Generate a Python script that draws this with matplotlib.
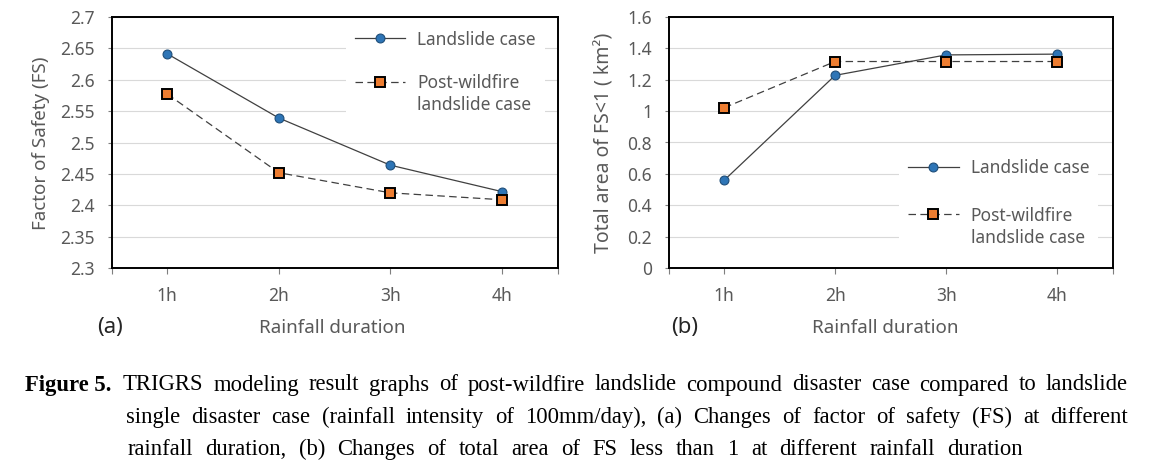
import numpy as np
import matplotlib
matplotlib.use('Agg')
import matplotlib.pyplot as plt
from matplotlib.ticker import FuncFormatter

# ---------------- data ----------------
durations = ['1h', '2h', '3h', '4h']
fs_landslide = [2.641, 2.539, 2.464, 2.422]
fs_postfire = [2.577, 2.452, 2.420, 2.409]
area_landslide = [0.560, 1.227, 1.357, 1.362]
area_postfire = [1.021, 1.315, 1.315, 1.315]
label_land = 'Landslide case'
label_post = 'Post-wildfire\nlandslide case'
ylabel_a = 'Factor of Safety (FS)'
ylabel_b = 'Total area of FS<1 ( km²)'
xlabel = 'Rainfall duration'
panel_a = '(a)'
panel_b = '(b)'
caption_head = 'Figure 5.'
caption_lines = [
    'TRIGRS modeling result graphs of post-wildfire landslide compound disaster case compared to landslide',
    'single disaster case (rainfall intensity of 100mm/day), (a) Changes of factor of safety (FS) at different',
    'rainfall duration, (b) Changes of total area of FS less than 1 at different rainfall duration',
]

W, H = 1169, 471
plt.rcParams['font.family'] = ['Noto Sans', 'DejaVu Sans']
fig = plt.figure(figsize=(W / 100, H / 100), dpi=100)

GRAY = '#595959'
FS = 12.5

def fx(x):
    return x / W

def fy(y):
    return 1 - y / H

axA = fig.add_axes([fx(111.5), fy(268.3), 446 / W, 251.6 / H])
axB = fig.add_axes([fx(668.7), fy(268.3), 443.8 / W, 251.6 / H])

fmt = FuncFormatter(lambda v, _: ('%.2f' % v).rstrip('0').rstrip('.'))

def style(ax, ylim, ystep):
    ax.set_xlim(0.5, 4.5)
    ax.set_ylim(*ylim)
    ax.set_yticks(np.arange(ylim[0], ylim[1] + ystep / 2, ystep))
    ax.yaxis.set_major_formatter(fmt)
    ax.grid(axis='y', color='#d9d9d9', lw=0.8)
    ax.set_axisbelow(True)
    for s in ax.spines.values():
        s.set_color('black')
        s.set_linewidth(1.4)
    ax.set_xticks(range(1, len(durations) + 1), durations)
    ax.set_xticks([0.5, 4.5], minor=True)
    ax.tick_params(axis='x', which='both', direction='out', length=4.5, width=0.8,
                   color='#7f7f7f', pad=9, labelsize=FS, labelcolor=GRAY)
    ax.tick_params(axis='y', direction='out', length=3, width=0.8,
                   color='#7f7f7f', pad=9, labelsize=FS, labelcolor=GRAY)

def plot_series(ax, a, b):
    x = np.arange(1, len(durations) + 1)
    ax.plot(x, a, color='#404040', lw=0.9, marker='o', ms=6.4,
            mfc='#2E75B6', mec='#1F4E79', mew=0.8, label=label_land, zorder=3)
    ax.plot(x, b, color='#404040', lw=0.9, ls=(0, (6, 3.5)), marker='s', ms=7.2,
            mfc='#ED7D31', mec='black', mew=1.4, label=label_post, zorder=4)

def add_legend(ax, anchor, spacing):
    leg = ax.legend(loc='upper left', bbox_to_anchor=anchor, borderaxespad=0,
                    borderpad=0.5, frameon=True, fancybox=False, edgecolor='none',
                    facecolor='white', framealpha=1, handlelength=2.9,
                    handletextpad=0.7, labelspacing=spacing, handleheight=1.2,
                    fontsize=FS, labelcolor=GRAY)
    for t in leg.get_texts():
        t.set_linespacing(1.3)
    for col in leg._legend_handle_box.get_children():
        for hp in col.get_children():
            hp.align = 'top'
    leg.set_zorder(5)
    return leg

style(axA, (2.3, 2.7), 0.05)
plot_series(axA, fs_landslide, fs_postfire)
add_legend(axA, (0.526, 0.979), 1.47)

style(axB, (0.0, 1.6), 0.2)
plot_series(axB, area_landslide, area_postfire)
add_legend(axB, (0.52, 0.467), 1.7)

# axis labels
fig.text(fx(41), fy(143), ylabel_a, rotation=90, ha='center', va='center', fontsize=13.5, color=GRAY)
fig.text(fx(604.5), fy(143), ylabel_b, rotation=90, ha='center', va='center', fontsize=14, color=GRAY)
fig.text(fx(332), fy(328), xlabel, ha='center', va='center', fontsize=13.5, color=GRAY)
fig.text(fx(885), fy(328), xlabel, ha='center', va='center', fontsize=13.5, color=GRAY)
fig.text(fx(110), fy(327), panel_a, ha='center', va='center', fontsize=16, color='#262626')
fig.text(fx(685), fy(327), panel_b, ha='center', va='center', fontsize=16, color='#262626')

# caption (justified)
renderer = fig.canvas.get_renderer()
CFS = 16.3
serif = ['Liberation Serif', 'DejaVu Serif']
fig.text(fx(111), fy(390.5), caption_head, fontsize=CFS, family=serif, weight='bold',
         va='baseline', ha='right')

def justify(line, x0, x1, yb):
    words = line.split(' ')
    ts = [fig.text(0, fy(yb), w, fontsize=CFS, family=serif, va='baseline', ha='left') for w in words]
    widths = [t.get_window_extent(renderer).width for t in ts]
    gap = (x1 - x0 - sum(widths)) / (len(ts) - 1)
    x = x0
    for t, w in zip(ts, widths):
        t.set_x(fx(x))
        x += w + gap

justify(caption_lines[0], 123, 1128, 390.5)
justify(caption_lines[1], 126, 1128, 423)
justify(caption_lines[2], 127.7, 1023, 455)

fig.savefig('out.png', dpi=100)
